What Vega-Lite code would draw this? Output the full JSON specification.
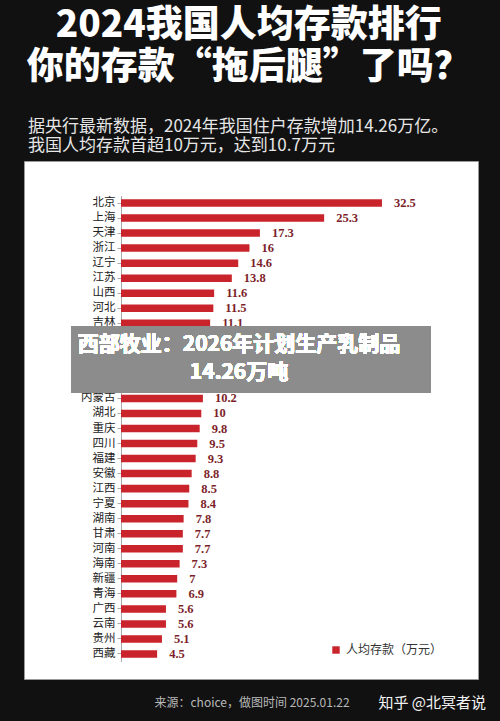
{
  "$schema": "https://vega.github.io/schema/vega-lite/v6.json",
  "background": "#111111",
  "padding": {"left": 23, "right": 23, "top": 7, "bottom": 10},
  "title": {
    "text": ["2024我国人均存款排行", "你的存款“拖后腿”了吗？"],
    "color": "#ffffff",
    "font": "Noto Sans CJK SC",
    "fontSize": 37,
    "fontWeight": 900,
    "lineHeight": 42,
    "anchor": "middle",
    "offset": 30.5,
    "dx": -6
  },
  "data": {
    "values": [
      {"province": "北京", "value": 32.5},
      {"province": "上海", "value": 25.3},
      {"province": "天津", "value": 17.3},
      {"province": "浙江", "value": 16},
      {"province": "辽宁", "value": 14.6},
      {"province": "江苏", "value": 13.8},
      {"province": "山西", "value": 11.6},
      {"province": "河北", "value": 11.5},
      {"province": "吉林", "value": 11.1},
      {"province": "黑龙江", "value": 11},
      {"province": "陕西", "value": 10.9},
      {"province": "广东", "value": 10.7},
      {"province": "山东", "value": 10.6},
      {"province": "内蒙古", "value": 10.2},
      {"province": "湖北", "value": 10},
      {"province": "重庆", "value": 9.8},
      {"province": "四川", "value": 9.5},
      {"province": "福建", "value": 9.3},
      {"province": "安徽", "value": 8.8},
      {"province": "江西", "value": 8.5},
      {"province": "宁夏", "value": 8.4},
      {"province": "湖南", "value": 7.8},
      {"province": "甘肃", "value": 7.7},
      {"province": "河南", "value": 7.7},
      {"province": "海南", "value": 7.3},
      {"province": "新疆", "value": 7},
      {"province": "青海", "value": 6.9},
      {"province": "广西", "value": 5.6},
      {"province": "云南", "value": 5.6},
      {"province": "贵州", "value": 5.1},
      {"province": "西藏", "value": 4.5}
    ]
  },
  "vconcat": [
    {
      "width": 454,
      "height": 518,
      "title": {
        "text": ["据央行最新数据，2024年我国住户存款增加14.26万亿。", "我国人均存款首超10万元，达到10.7万元"],
        "anchor": "start",
        "frame": "group",
        "color": "#e6e6e6",
        "font": "Noto Sans CJK SC",
        "fontSize": 17,
        "fontWeight": "normal",
        "lineHeight": 18.5,
        "offset": 6.5,
        "dx": 4
      },
      "encoding": {
        "y": {
          "field": "province",
          "type": "nominal",
          "sort": null,
          "scale": {"range": [34.5, 500.5], "paddingInner": 0.5, "paddingOuter": 0.25},
          "axis": {
            "title": "知乎 @北冥者说",
            "offset": -97,
            "grid": false,
            "domainColor": "#aaaaaa",
            "tickColor": "#aaaaaa",
            "tickSize": 4,
            "labelPadding": 2,
            "labelFont": "Noto Sans CJK SC",
            "labelFontSize": 11.5,
            "labelColor": "#222222",
            "titleAngle": 0,
            "titleX": 257,
            "titleY": 541,
            "titleAlign": "left",
            "titleBaseline": "middle",
            "titleColor": "#f4f4f4",
            "titleFont": "Noto Sans CJK SC",
            "titleFontSize": 15,
            "titleFontWeight": "normal"
          }
        },
        "x": {
          "field": "value",
          "type": "quantitative",
          "scale": {"domain": [-12.08, 44.46], "nice": false, "zero": false},
          "axis": {
            "title": "来源：choice，做图时间 2025.01.22",
            "domain": false,
            "ticks": false,
            "labels": false,
            "grid": false,
            "titleX": 130,
            "titleY": 23,
            "titleAlign": "left",
            "titleBaseline": "middle",
            "titleColor": "#b8b8b8",
            "titleFont": "Noto Sans CJK SC",
            "titleFontSize": 12,
            "titleFontWeight": "normal"
          }
        }
      },
      "layer": [
        {
          "mark": {"type": "bar"},
          "encoding": {
            "x2": {"datum": 0},
            "color": {
              "datum": "人均存款（万元）",
              "scale": {"range": ["#c9232b"]},
              "legend": {
                "title": null,
                "orient": "none",
                "legendX": 306,
                "legendY": 483,
                "labelFont": "Noto Sans CJK SC",
                "labelFontSize": 12,
                "labelColor": "#333333",
                "symbolType": "square",
                "symbolSize": 55,
                "symbolStrokeWidth": 0
              }
            }
          }
        },
        {
          "mark": {
            "type": "text",
            "align": "left",
            "baseline": "middle",
            "dx": 12,
            "font": "Liberation Serif",
            "fontWeight": "bold",
            "fontSize": 12.5,
            "color": "#7d1f2b"
          },
          "encoding": {
            "text": {"field": "value", "type": "nominal"}
          }
        },
        {
          "mark": {"type": "rect", "color": "#8c8c8c", "opacity": 0.88, "yOffset": -11.5, "y2Offset": -6},
          "encoding": {
            "x": {"datum": -6.2},
            "x2": {"datum": 38.6},
            "y": {"datum": "黑龙江"},
            "y2": {"datum": "内蒙古"}
          }
        },
        {
          "mark": {
            "type": "text",
            "text": "西部牧业：2026年计划生产乳制品\n14.26万吨",
            "lineBreak": "\n",
            "color": "#ffffff",
            "font": "Noto Sans CJK SC",
            "fontSize": 21,
            "fontWeight": "bold",
            "lineHeight": 27.5,
            "align": "center",
            "baseline": "middle",
            "dy": -4.5
          },
          "encoding": {
            "x": {"datum": 14.7},
            "y": {"datum": "陕西", "bandPosition": 0}
          }
        }
      ]
    }
  ],
  "config": {
    "view": {"fill": "#ffffff", "stroke": "#9a9a9a"}
  }
}
